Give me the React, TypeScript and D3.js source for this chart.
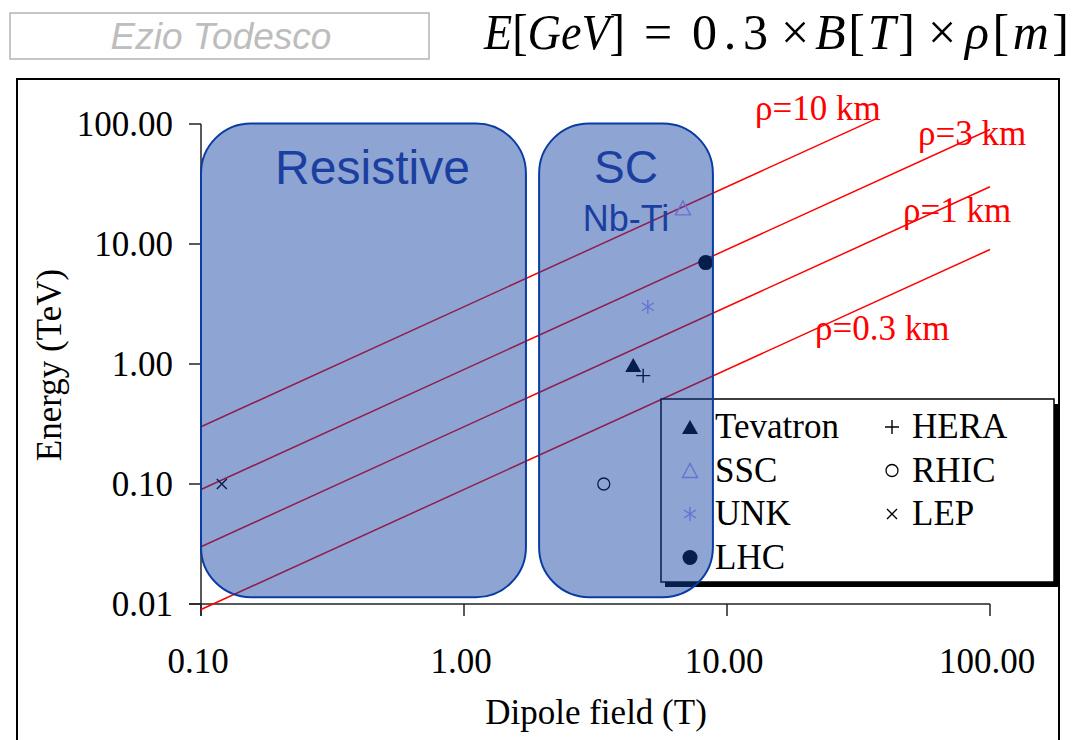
import React from 'react';
import * as d3 from 'd3';

// Accelerator dipoles: field (T) and beam energy (TeV)
const machines = ['Tevatron', 'SSC', 'UNK', 'LHC', 'HERA', 'RHIC', 'LEP'];
const fieldT = [4.4, 6.8, 5.0, 8.3, 4.8, 3.4, 0.12];
const energyTeV = [0.98, 20, 3.0, 7.0, 0.8, 0.1, 0.1];
const markerKinds = ['triangleFilled', 'triangleOpen', 'asterisk', 'dot', 'plus', 'ring', 'times'];

// Constant bending-radius lines, E[GeV] = 0.3 B[T] rho[m]
const radiiKm = [10, 3, 1, 0.3];
const radiusLabels = ['ρ=10 km', 'ρ=3 km', 'ρ=1 km', 'ρ=0.3 km'];
const fieldStartT = [0.1, 0.1, 0.1, 0.1];
const fieldEndT = [37, 100, 100, 100];

// Axis ticks
const xTicks = [0.1, 1, 10, 100];
const yTicks = [0.01, 0.1, 1, 10, 100];

// Technology regions (field span, energy span)
const regionNames = ['Resistive', 'SC'];
const regionFieldMin = [0.1, 1.93];
const regionFieldMax = [1.72, 8.84];
const regionEnergy = [0.0114, 101];

const serif = '"Liberation Serif", "Times New Roman", serif';
const sans = '"Liberation Sans", Arial, sans-serif';
const BOX_FILL = 'rgb(15,64,164)';
const BOX_ALPHA = 0.47;
const BOX_STROKE = '#0a3ca3';
const TEXT_BLUE = '#1b3fa0';

const colorOf = (kind: string) =>
  kind === 'triangleOpen' || kind === 'asterisk' ? '#bb99ff' : '#000';

function Marker({ kind, x, y }: { kind: string; x: number; y: number }) {
  const c = colorOf(kind);
  const t = `translate(${x},${y})`;
  switch (kind) {
    case 'triangleFilled':
      return <path transform={t} d="M-8,7L8,7L0,-7Z" fill={c} />;
    case 'triangleOpen':
      return <path transform={t} d="M-7.5,7L7.5,7L0,-7Z" fill="none" stroke={c} strokeWidth={1.4} />;
    case 'asterisk':
      return (
        <path transform={t} d="M0,-7L0,7M-6,-4L6,4M-6,4L6,-4" fill="none" stroke={c} strokeWidth={1.4} />
      );
    case 'dot':
      return <circle transform={t} r={7.5} fill={c} />;
    case 'plus':
      return <path transform={t} d="M-7,0L7,0M0,-7L0,7" fill="none" stroke={c} strokeWidth={1.4} />;
    case 'ring':
      return <circle transform={t} r={6} fill="none" stroke={c} strokeWidth={1.3} />;
    case 'times':
      return <path transform={t} d="M-5,-5L5,5M-5,5L5,-5" fill="none" stroke={c} strokeWidth={1.4} />;
    default:
      return null;
  }
}

export default function App() {
  const x = d3.scaleLog().domain([0.1, 100]).range([201, 990]);
  const y = d3.scaleLog().domain([0.01, 100]).range([604, 124]);
  const fmt = d3.format('.2f');
  const line = d3
    .line<[number, number]>()
    .x((d) => x(d[0]))
    .y((d) => y(d[1]));

  // label anchors for the constant-radius lines
  const labelAt = [
    [755, 120],
    [918, 145],
    [903, 222],
    [815, 340],
  ];

  // legend layout
  const lg = { x: 661, y: 399, w: 393, h: 183 };
  const rowY = [427, 470.5, 514, 557.5];
  const legendCols = [
    { markerX: 690, textX: 715, items: [0, 1, 2, 3] },
    { markerX: 892, textX: 912, items: [4, 5, 6] },
  ];

  return (
    <svg
      width={1081}
      height={740}
      style={{ position: 'absolute', left: 0, top: 0, background: '#fff' }}
    >
      {/* outer frame */}
      <rect x={17} y={79} width={1042} height={700} fill="none" stroke="#000" strokeWidth={2} />

      {/* author box */}
      <rect x={10} y={13} width={419} height={46} fill="#fff" stroke="#b4b4b4" strokeWidth={1.5} />
      <text
        x={221}
        y={49}
        textAnchor="middle"
        fontFamily={sans}
        fontStyle="italic"
        fontSize={37}
        fill="#bdbdbd"
      >
        Ezio Todesco
      </text>

      {/* formula */}
      <g fontFamily={serif} fontSize={50} fill="#000">
        <text x={484} y={49} textLength={141} lengthAdjust="spacingAndGlyphs">
          <tspan fontStyle="italic">E</tspan>[<tspan fontStyle="italic">GeV</tspan>]
        </text>
        <text x={658} y={49} textAnchor="middle">=</text>
        <text x={692} y={49} textLength={76} lengthAdjust="spacing">0.3</text>
        <text x={795} y={49} textAnchor="middle">×</text>
        <text x={815} y={49} textLength={100} lengthAdjust="spacing">
          <tspan fontStyle="italic">B</tspan>[<tspan fontStyle="italic">T</tspan>]
        </text>
        <text x={942} y={49} textAnchor="middle">×</text>
        <text x={965} y={49} textLength={104} lengthAdjust="spacing">
          <tspan fontStyle="italic">ρ</tspan>[<tspan fontStyle="italic">m</tspan>]
        </text>
      </g>

      {/* axes */}
      <g stroke="#222" strokeWidth={1.5}>
        <line x1={201} x2={201} y1={y(100)} y2={y(0.01) + 12} />
        <line x1={189} x2={x(100)} y1={y(0.01)} y2={y(0.01)} />
        {yTicks.map((t) => (
          <line key={'yt' + t} x1={189} x2={201} y1={y(t)} y2={y(t)} />
        ))}
        {xTicks.map((t) => (
          <line key={'xt' + t} x1={x(t)} x2={x(t)} y1={y(0.01)} y2={y(0.01) + 12} />
        ))}
      </g>
      <g fontFamily={serif} fontSize={35} fill="#000">
        {yTicks.map((t) => (
          <text key={'yl' + t} x={173} y={y(t) + 12} textAnchor="end">
            {fmt(t)}
          </text>
        ))}
        {xTicks.map((t) => (
          <text key={'xl' + t} x={x(t) - 3} y={673} textAnchor="middle">
            {fmt(t)}
          </text>
        ))}
        <text x={596} y={724} textAnchor="middle">
          Dipole field (T)
        </text>
        <text transform="translate(61,365) rotate(-90)" textAnchor="middle">
          Energy (TeV)
        </text>
      </g>

      {/* constant bending-radius lines */}
      {radiiKm.map((r, i) => {
        const pts: [number, number][] = [fieldStartT[i], fieldEndT[i]].map((b) => [b, 0.3 * b * r]);
        return <path key={'rl' + r} d={line(pts) || ''} fill="none" stroke="#ff0000" strokeWidth={1.5} />;
      })}
      <g fontFamily={serif} fontSize={35} fill="#ff0000">
        {radiusLabels.map((s, i) => (
          <text key={s} x={labelAt[i][0]} y={labelAt[i][1]}>
            {s}
          </text>
        ))}
      </g>

      {/* legend */}
      <rect x={lg.x + 4} y={lg.y + 5} width={lg.w} height={lg.h} fill="#000" />
      <rect x={lg.x} y={lg.y} width={lg.w} height={lg.h} fill="#fff" stroke="#000" strokeWidth={1.5} />
      {legendCols.map((col, ci) =>
        col.items.map((m, ri) => (
          <g key={'lg' + ci + ri}>
            <Marker kind={markerKinds[m]} x={col.markerX} y={rowY[ri]} />
            <text x={col.textX} y={rowY[ri] + 11} fontFamily={serif} fontSize={35} fill="#000">
              {machines[m]}
            </text>
          </g>
        ))
      )}

      {/* machines */}
      {machines.map((m, i) => (
        <Marker key={m} kind={markerKinds[i]} x={x(fieldT[i])} y={y(energyTeV[i])} />
      ))}

      {/* technology regions */}
      {regionNames.map((n, i) => (
        <rect
          key={n}
          x={x(regionFieldMin[i])}
          y={y(regionEnergy[1])}
          width={x(regionFieldMax[i]) - x(regionFieldMin[i])}
          height={y(regionEnergy[0]) - y(regionEnergy[1])}
          rx={50}
          ry={50}
          fill={BOX_FILL}
          fillOpacity={BOX_ALPHA}
          stroke={BOX_STROKE}
          strokeWidth={2}
        />
      ))}
      <g fontFamily={sans} fill={TEXT_BLUE} textAnchor="middle">
        <text x={(x(regionFieldMin[0]) + x(regionFieldMax[0])) / 2 + 9} y={184} fontSize={48}>
          {regionNames[0]}
        </text>
        <text x={(x(regionFieldMin[1]) + x(regionFieldMax[1])) / 2} y={183} fontSize={46}>
          {regionNames[1]}
        </text>
        <text x={(x(regionFieldMin[1]) + x(regionFieldMax[1])) / 2} y={231} fontSize={36}>
          Nb-Ti
        </text>
      </g>
    </svg>
  );
}
